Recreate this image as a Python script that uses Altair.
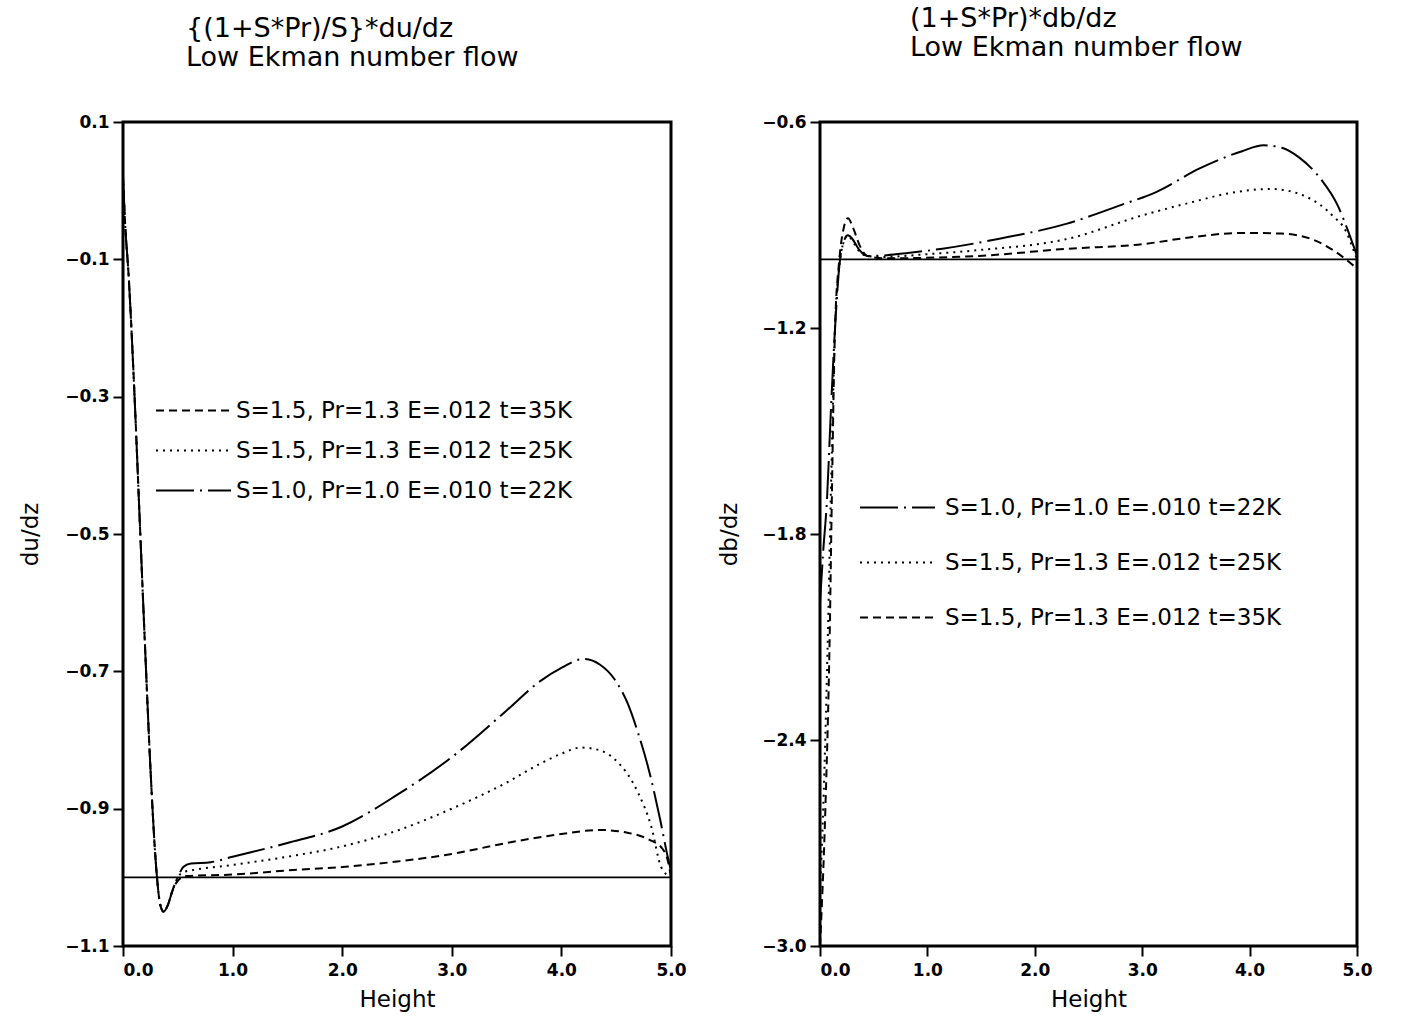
import altair as alt
import pandas as pd

S22 = "S=1.0, Pr=1.0 E=.010 t=22K"
S25 = "S=1.5, Pr=1.3 E=.012 t=25K"
S35 = "S=1.5, Pr=1.3 E=.012 t=35K"

X_TICKS = [0, 1, 2, 3, 4, 5]
BASELINE = [-1.0]

# ---- left panel: {(1+S*Pr)/S}*du/dz ----
L_COMMON_H = [0.0, 0.02, 0.05, 0.1, 0.15, 0.2, 0.25, 0.3, 0.34, 0.37, 0.41, 0.45]
L_COMMON_V = [0.02, -0.05, -0.12, -0.28, -0.47, -0.66, -0.84, -0.98, -1.04, -1.05, -1.04, -1.02]

L22_H = [0.5, 0.55, 0.62, 0.8, 1.0, 1.5, 2.0, 2.5, 3.0, 3.5, 3.8, 4.0, 4.2, 4.35, 4.5, 4.6, 4.7, 4.8, 4.9, 4.97, 5.0]
L22_V = [-1.0, -0.985, -0.98, -0.978, -0.97, -0.95, -0.926, -0.88, -0.825, -0.757, -0.715, -0.695, -0.682,
         -0.69, -0.715, -0.745, -0.79, -0.845, -0.915, -0.97, -0.99]
L25_H = [0.5, 0.56, 0.62, 1.0, 1.5, 2.0, 2.5, 3.0, 3.5, 3.8, 4.0, 4.18, 4.35, 4.5, 4.7, 4.82, 4.91, 5.0]
L25_V = [-1.0, -0.992, -0.99, -0.982, -0.97, -0.955, -0.932, -0.9, -0.862, -0.835, -0.82, -0.811, -0.815,
         -0.83, -0.877, -0.926, -0.985, -1.0]
L35_H = [0.5, 0.58, 1.0, 1.5, 2.0, 2.5, 3.0, 3.5, 4.0, 4.35, 4.6, 4.8, 4.92, 4.97, 5.0]
L35_V = [-1.005, -0.998, -0.996, -0.99, -0.985, -0.977, -0.966, -0.95, -0.937, -0.931, -0.935, -0.945,
         -0.958, -0.975, -1.0]

L_Y_TICKS = [-1.1, -0.9, -0.7, -0.5, -0.3, -0.1, 0.1]

# ---- right panel: (1+S*Pr)*db/dz ----
R22_H = [0.0, 0.03, 0.065, 0.1, 0.14, 0.18, 0.22, 0.26, 0.3, 0.36, 0.44, 0.5, 0.8, 1.14, 1.67, 2.3, 2.8,
         3.13, 3.53, 3.93, 4.13, 4.3, 4.46, 4.66, 4.82, 4.92, 5.0]
R22_V = [-2.0, -1.85, -1.7, -1.45, -1.2, -1.02, -0.95, -0.93, -0.94, -0.97, -0.99, -0.99, -0.982, -0.969,
         -0.94, -0.896, -0.842, -0.804, -0.736, -0.685, -0.668, -0.675, -0.703, -0.765, -0.843, -0.92, -0.99]
R25_H = [0.0, 0.04, 0.08, 0.1, 0.14, 0.18, 0.22, 0.26, 0.3, 0.36, 0.44, 0.58, 1.0, 1.48, 2.31, 3.0, 3.47,
         3.8, 4.2, 4.53, 4.77, 4.9, 4.97, 5.0]
R25_V = [-2.85, -2.5, -2.0, -1.7, -1.2, -1.02, -0.95, -0.93, -0.945, -0.975, -0.99, -0.993, -0.985, -0.973,
         -0.94, -0.872, -0.833, -0.808, -0.795, -0.818, -0.872, -0.92, -0.975, -1.0]
R35_H = [0.0, 0.05, 0.09, 0.11, 0.14, 0.18, 0.22, 0.26, 0.31, 0.37, 0.44, 0.58, 1.48, 2.31, 3.0, 3.47,
         3.93, 4.3, 4.6, 4.8, 5.0]
R35_V = [-3.0, -2.6, -2.1, -1.7, -1.2, -1.0, -0.91, -0.88, -0.91, -0.96, -0.99, -0.997, -0.99, -0.969,
         -0.956, -0.935, -0.923, -0.925, -0.944, -0.978, -1.027]

R_Y_TICKS = [-3.0, -2.4, -1.8, -1.2, -0.6]

DASH = {S35: [8, 5], S25: [2, 5], S22: [38, 6, 2, 6]}

FONT = "DejaVu Sans"


def frame(series_list):
    rows = []
    for name, hs, vs in series_list:
        for i, (h, v) in enumerate(zip(hs, vs)):
            rows.append({"series": name, "h": h, "v": v, "i": i})
    return pd.DataFrame(rows)


left_df = frame([
    (S22, L_COMMON_H + L22_H, L_COMMON_V + L22_V),
    (S25, L_COMMON_H + L25_H, L_COMMON_V + L25_V),
    (S35, L_COMMON_H + L35_H, L_COMMON_V + L35_V),
])
right_df = frame([
    (S22, R22_H, R22_V),
    (S25, R25_H, R25_V),
    (S35, R35_H, R35_V),
])


def panel(df, order, y_ticks, y_dom, y_title, title_lines, width, height,
          legend_x, legend_y, row_pad, label_off, title_dx, title_dy, ytitle_pad):
    x_enc = alt.X(
        "h:Q",
        scale=alt.Scale(domain=[0, 5], nice=False, zero=False),
        axis=alt.Axis(values=X_TICKS, format=".1f", title="Height", grid=False, domain=False,
                      tickSize=10, tickWidth=2, tickColor="black", labelPadding=6,
                      labelFlush=False,
                      labelAlign=alt.expr("datum.value == 0 ? 'left' : 'center'"),
                      labelFont=FONT, labelFontSize=17, labelFontWeight="bold", labelColor="black",
                      titleFont=FONT, titleFontSize=23, titleFontWeight="normal", titleColor="black",
                      titlePadding=10),
    )
    y_axis = alt.Axis(values=y_ticks, format=".1f", title=y_title, grid=False, domain=False,
                      tickSize=10, tickWidth=2, tickColor="black", labelPadding=4, labelFlush=False,
                      labelFont=FONT, labelFontSize=17, labelFontWeight="bold", labelColor="black",
                      titleFont=FONT, titleFontSize=23, titleFontWeight="normal", titleColor="black",
                      titlePadding=ytitle_pad)
    y_scale = alt.Scale(domain=y_dom, nice=False, zero=False)

    base = pd.DataFrame({"v": BASELINE})
    rule = alt.Chart(base).mark_rule(color="black", strokeWidth=1.6).encode(
        y=alt.Y("v:Q", scale=y_scale, axis=y_axis)
    )
    lines = alt.Chart(df).mark_line(color="black", strokeWidth=2, interpolate="monotone", clip=True).encode(
        x=x_enc,
        y=alt.Y("v:Q", scale=y_scale, axis=y_axis),
        order=alt.Order("i:Q"),
        strokeDash=alt.StrokeDash(
            "series:N",
            scale=alt.Scale(domain=order, range=[DASH[s] for s in order]),
            legend=alt.Legend(
                title=None, orient="none", legendX=legend_x, legendY=legend_y,
                symbolType="M-3.75,0H3.75", symbolSize=400, symbolStrokeWidth=2,
                symbolStrokeColor="black", symbolOffset=0, padding=0,
                labelFont=FONT, labelFontSize=23, labelColor="black", labelOffset=label_off,
                rowPadding=row_pad, labelLimit=500,
            ),
        ),
    )
    return alt.layer(rule, lines).properties(
        width=width, height=height,
        title=alt.TitleParams(text=title_lines, anchor="start", frame="group", dx=title_dx, dy=title_dy,
                              font=FONT, fontSize=27, fontWeight="normal", color="black",
                              lineHeight=29, offset=41),
    )


left = panel(left_df, [S35, S25, S22], L_Y_TICKS, [-1.1, 0.1], "du/dz",
             ["{(1+S*Pr)/S}*du/dz", "Low Ekman number flow"], 548, 824,
             59, 277, 16, 31, 63, 0, 22)
right = panel(right_df, [S22, S25, S35], R_Y_TICKS, [-3.0, -0.6], "db/dz",
              ["(1+S*Pr)*db/dz", "Low Ekman number flow"], 537, 824,
              66, 374, 31, 36, 90, -10, 20)

chart = alt.hconcat(left, right, spacing=29).resolve_scale(
    x="independent", y="independent", strokeDash="independent"
).resolve_legend(strokeDash="independent").properties(
    padding={"left": 18, "top": 3, "right": 5, "bottom": 5},
    background="white",
).configure_view(stroke="black", strokeWidth=3)

chart.save("out.html", embed_options={"renderer": "svg", "actions": False})
